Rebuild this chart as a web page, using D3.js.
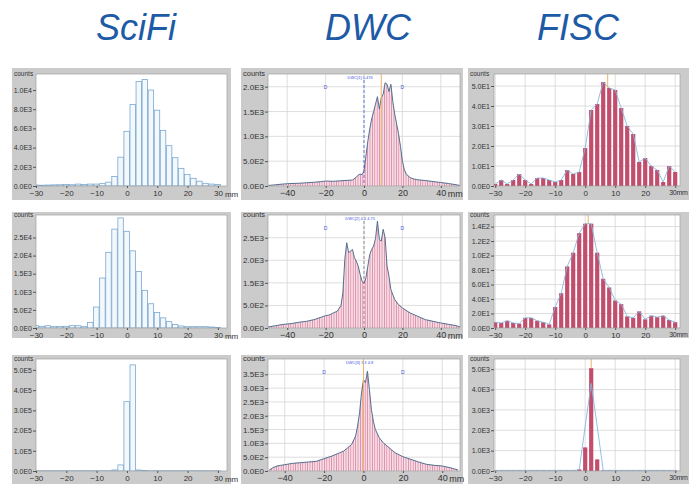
<!DOCTYPE html>
<html>
<head>
<meta charset="utf-8">
<script src="https://cdn.jsdelivr.net/npm/d3@7"></script>
<style>
body{margin:0;background:#fff;}
svg{display:block;font-family:"Liberation Sans",Arial,sans-serif;}
</style>
</head>
<body>
<svg id="chart" width="689" height="484"></svg>
<script>
// Column titles
var titles = ["SciFi", "DWC", "FISC"];

// Bin centres (mm) for SciFi and FISC histograms
var binCenters = [-30,-28,-26,-24,-22,-20,-18,-16,-14,-12,-10,-8,-6,-4,-2,0,2,4,6,8,10,12,14,16,18,20,22,24,26,28,30];

// SciFi counts
var sciFi1 = [100,80,100,120,130,150,130,200,150,200,200,250,400,1000,3000,5700,8500,10900,11100,10000,7900,5800,4200,2950,1840,1200,800,500,280,200,170];
var sciFi2 = [64,46,64,37,46,46,64,64,37,156,580,1380,2090,2730,3040,2670,2130,1560,1040,670,430,280,175,100,55,37,37,37,37,28,18];
var sciFi3 = [1500,1500,1500,1500,1500,1500,1500,1500,1500,1500,1500,1500,1500,5000,30000,343000,525000,5000,2000,1500,1500,1500,1500,1500,1500,1500,1500,1500,1500,1500,1500];

// DWC profiles (mm, counts)
var dwc1X = [-50,-46,-42,-38,-34,-30,-26,-22,-20,-16,-12,-8,-6,-4,-3,-2,-1,0,1,2,3,4,5,6,7,8,9,10,11,12,13,14,15,16,17,18,19,20,21,22,24,26,28,32,36,40,44,48,50];
var dwc1Y = [10,25,40,50,55,65,75,90,100,95,105,115,120,180,220,240,230,300,600,900,1150,1350,1500,1650,1800,1550,1780,1850,2080,2050,1900,2050,1700,1450,1250,1050,800,500,330,240,170,140,125,110,90,70,50,25,10];
var dwc2X = [-50,-46,-42,-38,-34,-30,-26,-22,-20,-18,-16,-14,-12,-11,-10,-9,-8,-7,-6,-5,-4,-3,-2,-1,0,1,2,3,4,5,6,7,8,9,10,11,12,13,14,16,18,20,24,28,32,36,40,44,48,50];
var dwc2Y = [22,52,81,96,126,148,185,244,274,289,333,370,496,778,1519,1889,1667,1704,1741,1556,1481,1370,1185,1037,985,1111,1370,1630,1741,1815,1978,2370,1963,1926,2185,2000,1370,1148,852,630,519,444,333,259,185,148,111,81,52,22];
var dwc3X = [-48,-46,-44,-42,-40,-36,-32,-28,-24,-20,-16,-12,-10,-8,-6,-4,-3,-2,-1,0,1,2,3,4,5,6,8,10,12,14,16,20,24,28,32,36,40,44,48];
var dwc3Y = [24,120,180,205,229,277,301,325,350,446,542,663,723,843,964,1265,1627,2108,2831,3313,3193,3614,2952,2229,1807,1506,1205,1024,904,783,663,518,422,325,241,205,181,120,36];

// FISC counts
var fisc1 = [1,3,1,3,6,3,1,4,4,3,2,3,8,6,7,19,38,41,52,49,48,39,30,26,12,14,10,8,2,10,7];
var fisc2 = [8,7,10,7,6,14,14,10,8,5,29,48,85,104,131,144,144,104,68,56,38,33,16,14,23,12,17,15,17,11,8];
var fisc3 = [30,30,30,30,30,30,30,30,30,30,30,30,30,30,80,1160,5050,570,30,30,30,30,30,30,30,30,30,30,30,30,30];
var fisc3Line = [30,30,30,30,30,30,30,30,30,30,30,30,30,30,50,2200,4300,2200,30,30,30,30,30,30,30,30,30,30,30,30,30];

// Axis ticks and labels
var xTicksShort = [-30,-20,-10,0,10,20,30];
var xTicksLong = [-40,-20,0,20,40];
var yTicks = [
	[[0,2000,4000,6000,8000,10000],[0,500,1000,1500,2000],[0,10,20,30,40,50]],
	[[0,500,1000,1500,2000,2500],[0,500,1000,1500,2000],[0,20,40,60,80,100,120,140]],
	[[0,1e5,2e5,3e5,4e5,5e5],[0,500,1000,1500,2000,2500,3000,3500],[0,1000,2000,3000,4000,5000]]
];
var yLabels = [
	[["0.0E0","2.0E3","4.0E3","6.0E3","8.0E3","1.0E4"],["0.0E0","5.0E2","1.0E3","1.5E3","2.0E3"],["0.0E0","1.0E1","2.0E1","3.0E1","4.0E1","5.0E1"]],
	[["0.0E0","5.0E2","1.0E3","1.5E3","2.0E4","2.5E4"],["0.0E0","5.0E2","1.5E3","2.0E3","2.5E3"],["0.0E0","2.0E1","4.0E1","6.0E1","8.0E1","1.0E2","1.2E2","1.4E2"]],
	[["0.0E0","1.0E5","2.0E5","3.0E5","4.0E5","5.0E5"],["0.0E0","5.0E2","1.0E3","1.5E3","2.0E3","2.5E3","3.0E3","3.5E3"],["0.0E0","1.0E3","2.0E3","3.0E3","4.0E3","5.0E3"]]
];
var yMaxes = [[11670,2256,56],[3120,2503,156],[554000,4054,5500]];
var xDomains = [[-30,33],[-50,50],[-30.4,31.6]];
var dwcTags = ["DWC[1] 0.476","DWC[2] 4.3 4.75","DWC[3] 1.3 4.8"];
var meanLines = [[null,9,7.5],[null,null,1],[null,0,2]];

// Layout
var colBox = [[12,219],[241,222],[468,221]];
var rowBox = [[68,132],[212,126],[355,129]];
var colPlot = [[36,227],[268,460],[494,680]];
var rowPlot = [[74,186],[215,328],[359,471]];
var titleX = [136,368,578];

var svg = d3.select("#chart");
var defs = svg.append("defs");

// pink striped fill for the DWC histograms
var pat = defs.append("pattern").attr("id","stripes").attr("patternUnits","userSpaceOnUse")
	.attr("width",2.4).attr("height",10);
pat.append("rect").attr("width",2.4).attr("height",10).attr("fill","#f6dce5");
pat.append("rect").attr("width",0.8).attr("height",10).attr("fill","#dc8aa5");

titles.forEach(function(t,i){
	svg.append("text").attr("x",titleX[i]).attr("y",40).attr("text-anchor","middle")
		.attr("font-size",36).attr("font-style","italic").attr("fill","#1d5ba6").text(t);
});

var sciData = [sciFi1, sciFi2, sciFi3];
var dwcData = [[dwc1X,dwc1Y],[dwc2X,dwc2Y],[dwc3X,dwc3Y]];
var fiscData = [fisc1, fisc2, fisc3];
var fiscLines = [fisc1, fisc2, fisc3Line];

for (var r=0; r<3; r++) {
	for (var c=0; c<3; c++) {
		drawPanel(r,c);
	}
}

function drawPanel(r,c) {
	var g = svg.append("g");
	var p = colPlot[c], q = rowPlot[r];
	var xd = xDomains[c].slice();
	if (c === 1 && r === 2) xd = [-48.5,49];
	var x = d3.scaleLinear().domain(xd).range([p[0],p[1]]);
	var y = d3.scaleLinear().domain([0,yMaxes[r][c]]).range([q[1],q[0]]);
	var clipId = "clip"+r+c;

	g.append("rect").attr("x",colBox[c][0]).attr("y",rowBox[r][0])
		.attr("width",colBox[c][1]).attr("height",rowBox[r][1]).attr("fill","#cbcbcb");
	g.append("rect").attr("x",p[0]).attr("y",q[0]).attr("width",p[1]-p[0]).attr("height",q[1]-q[0])
		.attr("fill","#fff");
	defs.append("clipPath").attr("id",clipId).append("rect")
		.attr("x",p[0]).attr("y",q[0]).attr("width",p[1]-p[0]).attr("height",q[1]-q[0]);

	var xt = c === 1 ? xTicksLong : xTicksShort;

	// gridlines
	if (c > 0) {
		g.selectAll(".gx").data(xt).enter().append("line")
			.attr("x1",function(d){return x(d);}).attr("x2",function(d){return x(d);})
			.attr("y1",q[0]).attr("y2",q[1]).attr("stroke","#d6d6d6").attr("stroke-width",0.8);
		g.selectAll(".gy").data(yTicks[r][c]).enter().append("line")
			.attr("x1",p[0]).attr("x2",p[1]).attr("y1",function(d){return y(d);}).attr("y2",function(d){return y(d);})
			.attr("stroke","#d6d6d6").attr("stroke-width",0.8);
	}

	var m = g.append("g").attr("clip-path","url(#"+clipId+")");

	if (c === 0) {
		m.selectAll("rect").data(sciData[r]).enter().append("rect")
			.attr("x",function(d,i){return x(binCenters[i]-1);})
			.attr("width",x(2)-x(0)-0.6)
			.attr("y",function(d){return y(d);})
			.attr("height",function(d){return Math.max(0.5,y(0)-y(d));})
			.attr("fill","#f3f8fc").attr("stroke","#7aa7cf").attr("stroke-width",0.8);
	} else if (c === 1) {
		var pts = dwcData[r][0].map(function(v,i){return [v,dwcData[r][1][i]];});
		m.append("path").datum(pts)
			.attr("d",d3.area().x(function(d){return x(d[0]);}).y0(y(0)).y1(function(d){return y(d[1]);}))
			.attr("fill","url(#stripes)");
		m.append("path").datum(pts)
			.attr("d",d3.line().x(function(d){return x(d[0]);}).y(function(d){return y(d[1]);}))
			.attr("fill","none").attr("stroke","#52708e").attr("stroke-width",1);
		// centre line
		m.append("line").attr("x1",x(0)).attr("x2",x(0)).attr("y1",q[0]+6).attr("y2",q[1])
			.attr("stroke", r === 1 ? "#777" : "#3d55d0").attr("stroke-width",0.8).attr("stroke-dasharray","3,2");
		// markers and tag
		[-20,20].forEach(function(v){
			m.append("text").attr("x",x(v)).attr("y",q[0]+15).attr("text-anchor","middle")
				.attr("font-size",5).attr("fill","#4455dd").text("D");
		});
		m.append("text").attr("x",x(-2)).attr("y",q[0]+5).attr("text-anchor","middle")
			.attr("font-size",4).attr("fill","#4455dd").text(dwcTags[r]);
	} else {
		m.selectAll("rect").data(fiscData[r]).enter().append("rect")
			.attr("x",function(d,i){return x(binCenters[i]-0.7);})
			.attr("width",x(1.4)-x(0))
			.attr("y",function(d){return y(d);})
			.attr("height",function(d){return Math.max(0.6,y(0)-y(d));})
			.attr("fill","#c24e6e");
		m.append("path").datum(fiscLines[r])
			.attr("d",d3.line().x(function(d,i){return x(binCenters[i]);}).y(function(d){return y(d);}))
			.attr("fill","none").attr("stroke","#86b8dc").attr("stroke-width",0.9);
	}

	if (meanLines[r][c] !== null) {
		m.append("line").attr("x1",x(meanLines[r][c])).attr("x2",x(meanLines[r][c]))
			.attr("y1",q[0]).attr("y2",c === 2 ? y(fiscData[r][binCenters.indexOf(Math.round(meanLines[r][c]/2)*2)]) : q[1])
			.attr("stroke","#eeb366").attr("stroke-width",1);
	}

	// frame
	g.append("rect").attr("x",p[0]).attr("y",q[0]).attr("width",p[1]-p[0]).attr("height",q[1]-q[0])
		.attr("fill","none").attr("stroke","#a0a0a0").attr("stroke-width",0.7);

	// y axis
	var labs = yLabels[r][c];
	var ya = g.append("g").attr("transform","translate("+p[0]+",0)")
		.call(d3.axisLeft(y).tickValues(yTicks[r][c]).tickFormat(function(d,i){return labs[i];})
			.tickSize(3).tickPadding(1));
	ya.select(".domain").remove();
	ya.selectAll("line").attr("stroke","#555");
	ya.selectAll("text").attr("font-size",c === 1 ? 8 : 7).attr("fill","#333")
		.attr("font-family","'Liberation Sans',Arial,sans-serif");

	// x axis
	var fs = c === 1 ? 9 : 8;
	var xa = g.append("g").attr("transform","translate(0,"+q[1]+")")
		.call(d3.axisBottom(x).tickValues(xt).tickSize(2).tickPadding(2));
	xa.select(".domain").remove();
	xa.selectAll("line").attr("stroke","#555");
	xa.selectAll("text").attr("font-size",fs).attr("fill","#333")
		.attr("font-family","'Liberation Sans',Arial,sans-serif");
	var last = xt[xt.length-1];
	if (c === 2) {
		// the last FISC label sits against the right edge, so unit and number share one text
		xa.selectAll(".tick text").filter(function(d){return d === last;})
			.text(last+"mm").attr("text-anchor","end").attr("x",687-x(last))
			.attr("font-size",7).attr("letter-spacing",-0.3);
	} else {
		g.append("text").attr("x",x(last)+7).attr("y",q[1]+11)
			.attr("font-size",fs).attr("fill","#333").text("mm");
	}

	// "counts" label
	g.append("text").attr("x",colBox[c][0]+2).attr("y",q[0]+2)
		.attr("font-size",c === 1 ? 7.5 : 6.5).attr("fill","#333").text("counts");
}
</script>
</body>
</html>
